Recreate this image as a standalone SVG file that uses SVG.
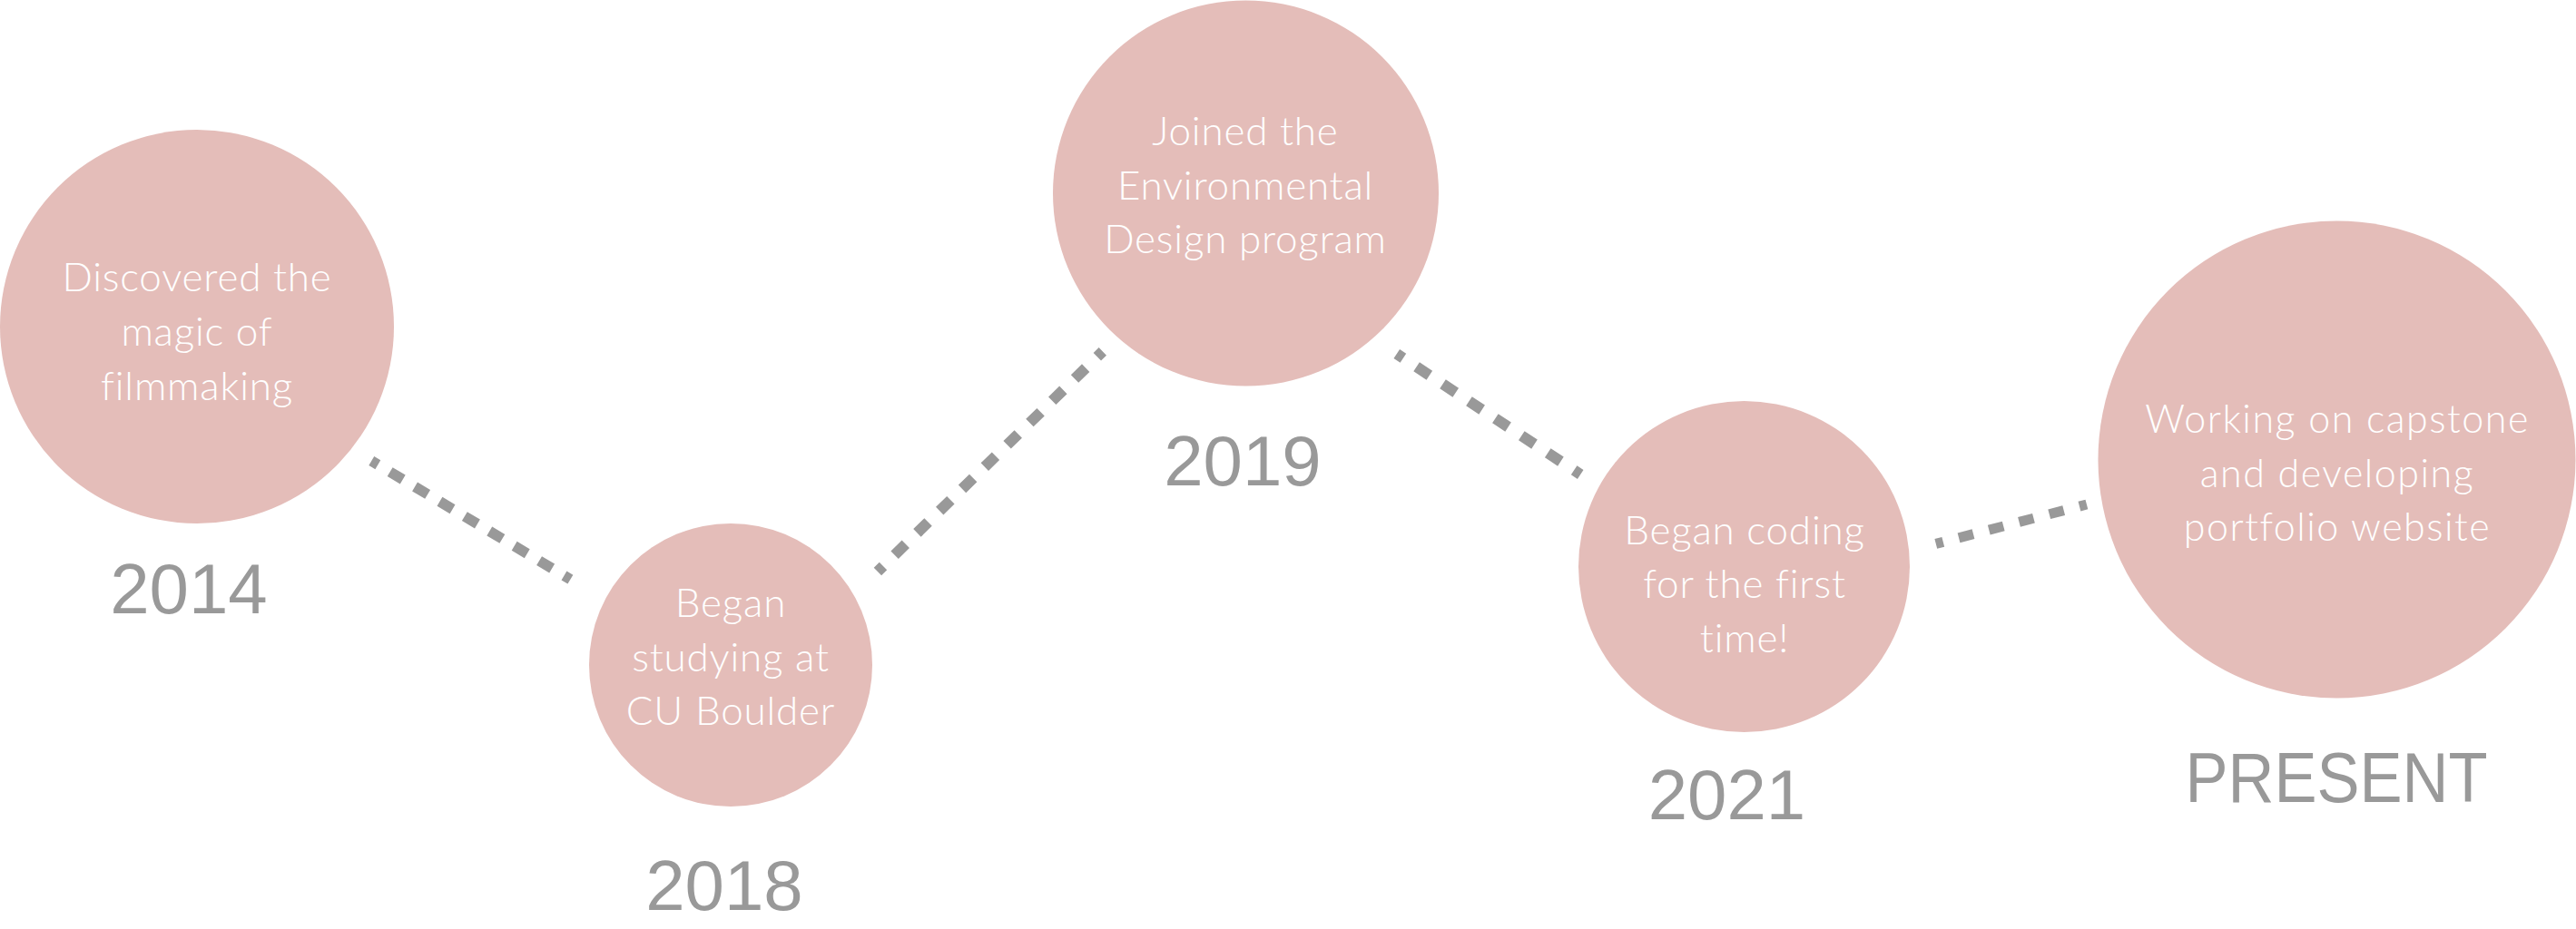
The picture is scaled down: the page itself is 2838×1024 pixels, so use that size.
<svg xmlns="http://www.w3.org/2000/svg" width="2838" height="1024" viewBox="0 0 2838 1024">
<style>
.node{fill:#E4BDB9}
.lbl{font-family:Lato,"Open Sans","Liberation Sans",sans-serif;font-weight:300;font-size:44px;fill:#FFFFFF;text-anchor:middle;letter-spacing:0.8px}
.lbl5{font-family:Lato,"Open Sans","Liberation Sans",sans-serif;font-weight:300;font-size:43px;fill:#FFFFFF;text-anchor:middle;letter-spacing:1.5px}
.year{font-family:"Liberation Sans",Arial,sans-serif;font-size:78px;fill:#999999;text-anchor:middle}
.conn{stroke:#999999;fill:none;stroke-linecap:butt}
</style>
<rect width="2838" height="1024" fill="#FFFFFF"/>
<g id="connectors">
<line class="conn" x1="409.3" y1="508" x2="628.4" y2="638.6" stroke-width="11.5" stroke-dasharray="16.4 15.5" stroke-dashoffset="8.2"/>
<line class="conn" x1="966.9" y1="630" x2="1214.8" y2="387.4" stroke-width="12" stroke-dasharray="17 17.7" stroke-dashoffset="8.5"/>
<line class="conn" x1="1538.8" y1="390" x2="1741.2" y2="522.9" stroke-width="12" stroke-dasharray="17 17.6" stroke-dashoffset="8.5"/>
<line class="conn" x1="2132.8" y1="599.4" x2="2298.9" y2="556" stroke-width="11" stroke-dasharray="16.5 17.84" stroke-dashoffset="8.25"/>
</g>
<g id="node-2014">
<circle class="node" cx="217" cy="360" r="217"/>
<text class="lbl" x="217" y="321">Discovered the</text>
<text class="lbl" x="217" y="381">magic of</text>
<text class="lbl" x="217" y="441">filmmaking</text>
<text class="year" x="208" y="676">2014</text>
</g>
<g id="node-2018">
<circle class="node" cx="805" cy="733" r="156"/>
<text class="lbl" x="805" y="680">Began</text>
<text class="lbl" x="805" y="740">studying at</text>
<text class="lbl" x="805" y="799">CU Boulder</text>
<text class="year" x="798" y="1003">2018</text>
</g>
<g id="node-2019">
<circle class="node" cx="1372.5" cy="213" r="212.5"/>
<text class="lbl" x="1372" y="160">Joined the</text>
<text class="lbl" x="1372" y="220">Environmental</text>
<text class="lbl" x="1372" y="279">Design program</text>
<text class="year" x="1369" y="535">2019</text>
</g>
<g id="node-2021">
<circle class="node" cx="1921.5" cy="624.5" r="182.5"/>
<text class="lbl" x="1922" y="600">Began coding</text>
<text class="lbl" x="1922" y="659">for the first</text>
<text class="lbl" x="1922" y="719">time!</text>
<text class="year" x="1902.5" y="903">2021</text>
</g>
<g id="node-present">
<circle class="node" cx="2574.5" cy="506.5" r="263"/>
<text class="lbl5" x="2575" y="477">Working on capstone</text>
<text class="lbl5" x="2575" y="536.5">and developing</text>
<text class="lbl5" x="2575" y="596">portfolio website</text>
<text class="year" x="2574" y="884" textLength="333" lengthAdjust="spacingAndGlyphs">PRESENT</text>
</g>
</svg>
